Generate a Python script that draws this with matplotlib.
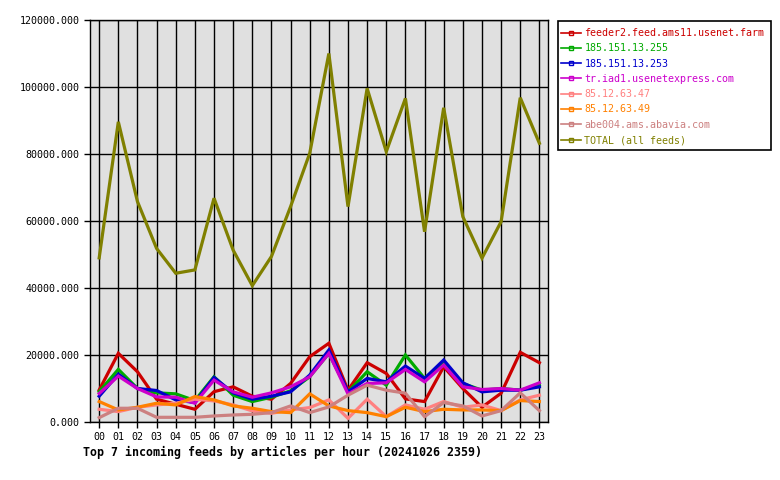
import matplotlib
matplotlib.use("Agg")
import matplotlib.pyplot as plt
from matplotlib.lines import Line2D
from matplotlib.patches import Rectangle
from matplotlib.ticker import FormatStrFormatter

hours = [f"{h:02d}" for h in range(24)]

feeder2 = [9550, 20500, 15000, 6800, 5300, 3800, 9050, 10500, 7700, 6800, 11500, 19500,
           23500, 9500, 17700, 14500, 6900, 6100, 16500, 10000, 4400, 8600, 20800, 17700]
ip_255 = [9050, 15700, 10000, 8700, 8400, 6400, 13500, 8000, 6100, 7400, 9300, 13500,
          20500, 9000, 15000, 11000, 20000, 13000, 17700, 11500, 9500, 10000, 9500, 11000]
ip_253 = [7700, 14300, 10000, 9400, 6600, 5800, 13300, 8700, 6800, 7700, 9000, 14000,
          21500, 9000, 13000, 12000, 16700, 13000, 18500, 11700, 9000, 9500, 9500, 10500]
iad1 = [8500, 13700, 10000, 7500, 7400, 5600, 12500, 9000, 7400, 8700, 10500, 13500,
        20500, 8400, 11500, 11700, 15700, 12000, 17000, 10500, 9700, 10000, 9500, 11700]
ip_47 = [3800, 3100, 4400, 5100, 5600, 6800, 6300, 5100, 3300, 2600, 3600, 4300,
         6600, 1100, 6800, 1600, 5100, 3800, 6100, 4400, 5100, 3400, 6600, 8000]
ip_49 = [6100, 3600, 4400, 5600, 5100, 7600, 6600, 4800, 4100, 3100, 2800, 8400,
         4800, 3400, 2800, 1600, 4400, 3100, 3800, 3600, 3600, 3400, 6400, 6100]
abe004 = [1300, 4100, 4100, 1400, 1400, 1400, 1800, 2100, 2300, 2800, 4800, 2800,
          4500, 8000, 11000, 9500, 8600, 1600, 5800, 4800, 1800, 3400, 8700, 3400]
total = [49000, 89600, 65800, 51800, 44400, 45400, 66800, 51300, 40700, 49400, 64300, 80200,
         110000, 64300, 99600, 80700, 96600, 56800, 93800, 61300, 48900, 59800, 96800, 83200]

labels = ["feeder2.feed.ams11.usenet.farm", "185.151.13.255", "185.151.13.253",
          "tr.iad1.usenetexpress.com", "85.12.63.47", "85.12.63.49",
          "abe004.ams.abavia.com", "TOTAL (all feeds)"]
series = [feeder2, ip_255, ip_253, iad1, ip_47, ip_49, abe004, total]
colors = ["#cc0000", "#00aa00", "#0000cc", "#cc00cc", "#ff8080", "#ff8000", "#cc8080", "#808000"]

plt.rcParams["font.family"] = ["DejaVu Sans Mono"]

W, H = 780, 480
fig = plt.figure(figsize=(7.8, 4.8), dpi=100)
ax = fig.add_axes([90 / W, 58 / H, 458 / W, 402 / H])
ax.set_facecolor("#e0e0e0")

x = list(range(len(hours)))
for vals, col in zip(series, colors):
    ax.plot(x, vals, color=col, lw=2.3, solid_joinstyle="miter")

ax.set_xlim(-0.48, 23.45)
ax.set_ylim(0, 120000)
ax.set_xticks(x)
ax.set_xticklabels(hours)
ax.set_yticks(range(0, 120001, 20000))
ax.yaxis.set_major_formatter(FormatStrFormatter("%.3f"))
ax.tick_params(labelsize=7.2, length=4, width=1, colors="black", direction="out")
ax.grid(True, color="black", lw=1)
ax.set_axisbelow(True)
for sp in ax.spines.values():
    sp.set_color("black")
    sp.set_linewidth(1)

# legend box drawn separately so its margins match the original
fig.patches.append(Rectangle((558 / W, 1 - 150 / H), 212.5 / W, 129.5 / H,
                             transform=fig.transFigure, fill=False,
                             edgecolor="black", lw=1.2))
handles = [Line2D([0], [0], color=c, lw=1.2, marker="s", markersize=3, fillstyle="none")
           for c in colors]
leg = fig.legend(handles, labels, loc="upper left", bbox_to_anchor=(561 / W, 1 - 28 / H),
                 borderaxespad=0, borderpad=0, fontsize=7.2, handlelength=2.0,
                 handletextpad=0.35, labelspacing=0.53, frameon=False)
for t, c in zip(leg.get_texts(), colors):
    t.set_color(c)

fig.text(83 / W, 1 - 452 / H, "Top 7 incoming feeds by articles per hour (20241026 2359)",
         fontsize=8.4, fontweight="bold", va="center", ha="left")

fig.savefig("out.png", dpi=100)
